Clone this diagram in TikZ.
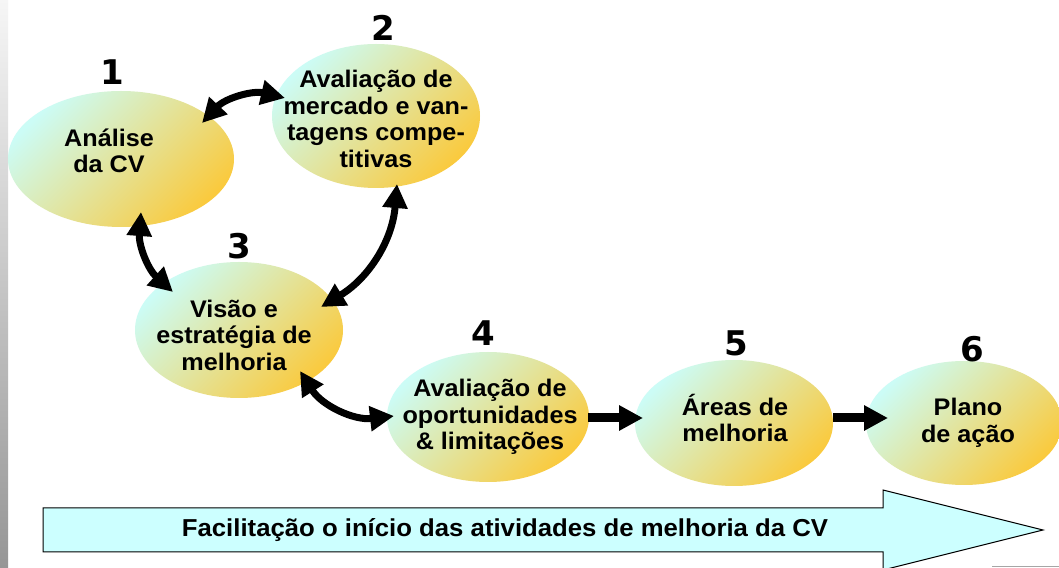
\documentclass[tikz,border=0pt]{standalone}
\usepackage{fontspec}
\setmainfont{Liberation Sans}
\newfontfamily\lab{Liberation Sans}[FakeStretch=1.05]
\newfontfamily\dig{DejaVu Sans}
\usetikzlibrary{shapes.geometric,arrows.meta,calc}
\definecolor{cyanL}{RGB}{204,252,246}
\definecolor{goldL}{RGB}{250,202,62}
\definecolor{bannerC}{RGB}{204,255,255}
\definecolor{stripTop}{RGB}{246,246,246}
\definecolor{stripBot}{RGB}{150,150,150}
\begin{document}
\begin{tikzpicture}[x=1pt,y=1pt,
  oval/.style={ellipse, inner sep=0pt, draw=none, top color=cyanL, bottom color=goldL, shading angle=45},
  txt/.style={align=center, font=\lab\bfseries\fontsize{24}{26.5}\selectfont, inner sep=0pt},
  num/.style={font=\dig\bfseries\fontsize{34}{34}\selectfont, inner sep=0pt},
  dbl/.style={line width=7pt, {Triangle[length=24pt,width=24pt]}-{Triangle[length=24pt,width=24pt]}},
  fwd/.style={line width=9pt, -{Triangle[length=24pt,width=24pt]}}
]
\useasboundingbox (0,0) rectangle (1059,567);
\fill[white] (0,0) rectangle (1059,567);
\shade[top color=stripTop, bottom color=stripBot] (0,0) rectangle (8,567);

% ellipses
\node[oval, minimum width=226pt, minimum height=136pt] (n1) at (121,408) {};
\node[oval, minimum width=208pt, minimum height=144pt] (n2) at (376,451) {};
\node[oval, minimum width=208pt, minimum height=136pt] (n3) at (239,237) {};
\node[oval, minimum width=202pt, minimum height=130pt] (n4) at (488,150) {};
\node[oval, minimum width=198pt, minimum height=126pt] (n5) at (734,144) {};
\node[oval, minimum width=196pt, minimum height=124pt] (n6) at (964,144) {};

% texts
\node[txt] (t1) at (109,416) {Análise\\da CV};
\node[txt] (t2) at (376,448) {Avaliação de\\mercado e van-\\tagens compe-\\titivas};
\node[txt] (t3) at (234,232) {Visão e\\estratégia de\\melhoria};
\node[txt] (t4) at (490,150) {Avaliação de\\oportunidades\\\& limitações};
\node[txt] (t5) at (735,149) {Áreas de\\melhoria};
\node[txt] (t6) at (968,144) {Plano\\de ação};

% numbers
\node[num] (l1) at (112,495) {1};
\node[num] (l2) at (383,539) {2};
\node[num] (l3) at (239,321) {3};
\node[num] (l4) at (483,234) {4};
\node[num] (l5) at (736,224) {5};
\node[num] (l6) at (972,218) {6};

% connectors
\draw[dbl] ($(n1.center)+(81,36)$) to[bend left=30] ($(n2.center)+(-91,18)$);
\draw[dbl] ($(n1.center)+(20,-53)$) to[bend right=26] ($(n3.center)+(-66,38)$);
\draw[dbl] ($(n2.center)+(21,-68)$) to[bend left=27] ($(n3.center)+(82,23)$);
\draw[dbl] ($(n3.center)+(61,-41)$) to[bend right=32] ($(n4.center)+(-94,1)$);
\draw[fwd] ($(n4.center)+(100,-1)$) -- ($(n5.center)+(-91,5)$);
\draw[fwd] ($(n5.center)+(99,5)$) -- ($(n6.center)+(-76,5)$);

% banner arrow
\draw[fill=bannerC, line width=1pt] (43,59) -- (883,59) -- (883,77) -- (1043,37) -- (883,-3) -- (883,15) -- (43,15) -- cycle;
\node[font=\lab\bfseries\fontsize{24.5}{28}\selectfont, inner sep=0pt] (banner) at (505,37) {Facilitação o início das atividades de melhoria da CV};
\draw[gray!70, line width=1pt] (992,1) -- (1059,1);
\end{tikzpicture}
\end{document}
